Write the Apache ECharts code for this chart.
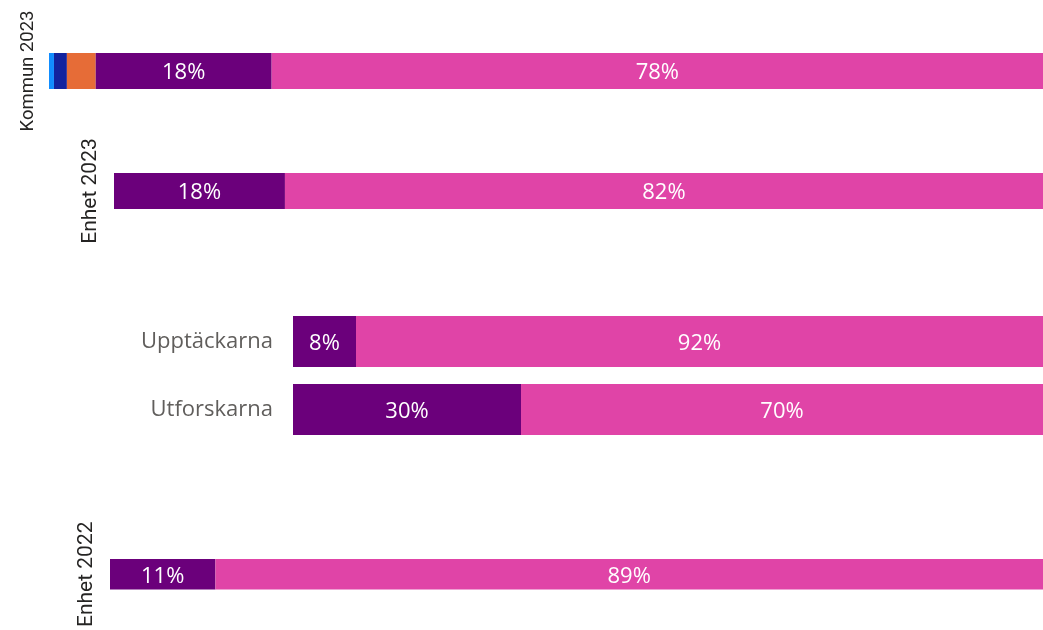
<!DOCTYPE html>
<html>
<head>
<meta charset="utf-8">
<script src="https://cdn.jsdelivr.net/npm/echarts@6/dist/echarts.min.js"></script>
<style>html,body{margin:0;padding:0;background:#fff;}#c{width:1043px;height:630px;}</style>
</head>
<body>
<div id="c"></div>
<script>
// Categories (one bar each)
const categories = ['Kommun 2023', 'Enhet 2023', 'Upptäckarna', 'Utforskarna', 'Enhet 2022'];
// Segment series (percent of each bar)
const seriesNames = ['Kategori 1', 'Kategori 2', 'Kategori 3', 'Kategori 4', 'Kategori 5'];
const seg1 = [0.5, 0, 0, 0, 0];
const seg2 = [1.3, 0, 0, 0, 0];
const seg3 = [2.9, 0, 0, 0, 0];
const seg4 = [17.7, 18.4, 8.4, 30.4, 11.3];
const seg5 = [77.6, 81.6, 91.6, 69.6, 88.7];
const segs = [seg1, seg2, seg3, seg4, seg5];
const colors = ['#118DFF', '#12239E', '#E66C37', '#6B007B', '#E044A7'];

// layout per bar
const layout = [
  { left: 49, top: 53, h: 36, rot: true, fs: 18.5, margin: 11 },
  { left: 114, top: 173, h: 36, rot: true, fs: 21, margin: 13 },
  { left: 293, top: 316, h: 51, rot: false, fs: 22, margin: 20 },
  { left: 293, top: 384, h: 51, rot: false, fs: 22, margin: 20 },
  { left: 110, top: 559, h: 36, rot: true, fs: 21, margin: 13 }
];

const grid = [], xAxis = [], yAxis = [], series = [];
categories.forEach((cat, i) => {
  const L = layout[i];
  grid.push({ left: L.left, right: 0, top: L.top, height: L.h });
  xAxis.push({ type: 'value', gridIndex: i, min: 0, max: 100, show: false });
  yAxis.push({
    type: 'category', gridIndex: i, data: [cat],
    axisLine: { show: false }, axisTick: { show: false },
    axisLabel: L.rot ? {
      rotate: 90, margin: L.margin, fontFamily: 'Roboto', fontSize: L.fs, color: '#252423'
    } : {
      margin: L.margin, fontFamily: 'Open Sans', fontSize: L.fs, color: '#605E5C', padding: [4, 0, 0, 0]
    }
  });
  segs.forEach((s, k) => {
    if (!s[i]) return;
    series.push({
      type: 'bar', name: seriesNames[k], xAxisIndex: i, yAxisIndex: i, stack: 'g' + i,
      data: [s[i]], barCategoryGap: '0%', barWidth: L.h,
      itemStyle: { color: colors[k] },
      label: {
        show: true, position: 'inside', offset: [0, 2], color: '#fff', fontFamily: 'Open Sans', fontSize: 22,
        formatter: p => p.value >= 5 ? Math.round(p.value) + '%' : ''
      },
      silent: true
    });
  });
});

const chart = echarts.init(document.getElementById('c'));
chart.setOption({ animation: false, grid, xAxis, yAxis, series });
</script>
</body>
</html>
